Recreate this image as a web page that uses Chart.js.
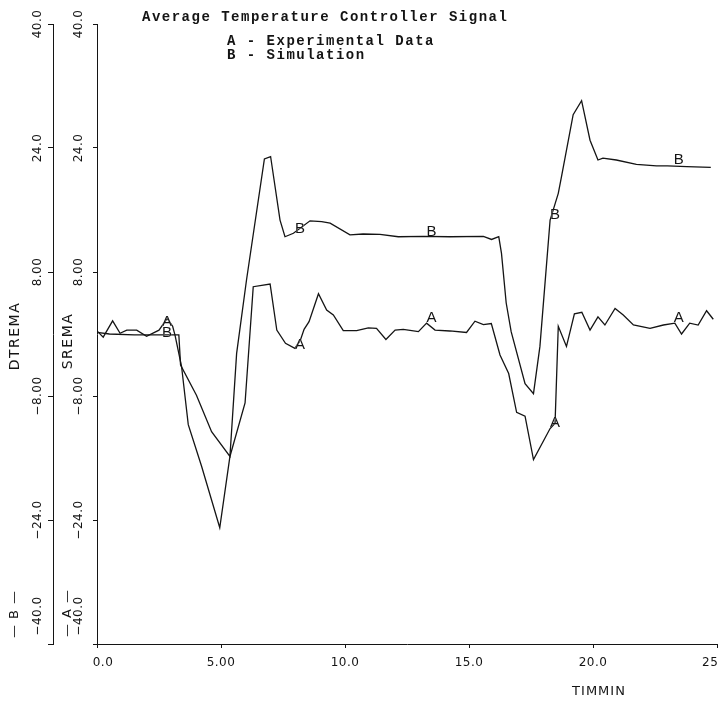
<!DOCTYPE html>
<html>
<head>
<meta charset="utf-8">
<script src="https://cdn.jsdelivr.net/npm/chart.js@4.4.1/dist/chart.umd.min.js"></script>
<style>
  html, body { margin: 0; padding: 0; background: #fff; }
  #wrap { width: 720px; height: 704px; }
</style>
</head>
<body>
<div id="wrap"><canvas id="c" width="720" height="704"></canvas></div>
<script>
// A - experimental data (SREMA) against time in minutes
const timeA = [0.0, 0.25, 0.63, 0.93, 1.2, 1.6, 2.0, 2.5, 2.83, 3.05, 3.15, 3.41, 3.68, 4.22, 4.95,
  5.36, 5.97, 6.3, 6.98, 7.25, 7.6, 7.98, 8.2, 8.35, 8.55, 8.93, 9.26, 9.53, 9.93, 10.47, 10.94,
  11.27, 11.65, 12.02, 12.35, 12.96, 13.29, 13.63, 14.23, 14.9, 15.24, 15.58, 15.9, 16.25, 16.6,
  16.92, 17.26, 17.6, 18.27, 18.47, 18.6, 18.93, 19.25, 19.55, 19.88, 20.2, 20.48, 20.89, 21.22,
  21.63, 22.3, 22.84, 23.3, 23.57, 23.9, 24.24, 24.58, 24.85];
const sremaA = [0.4, -0.4, 1.7, 0.1, 0.5, 0.5, -0.3, 0.5, 2.0, 1.0, -0.2, -4.2, -11.7, -17.1, -25.0,
  -15.8, -8.9, 6.1, 6.45, 0.5, -1.2, -1.85, -0.8, 0.6, 1.6, 5.2, 3.1, 2.45, 0.43, 0.43, 0.8,
  0.73, -0.7, 0.5, 0.6, 0.3, 1.4, 0.5, 0.39, 0.2, 1.65, 1.2, 1.35, -2.7, -5.1,
  -10.1, -10.6, -16.2, -12.2, -11.5, 1.0, -1.6, 2.6, 2.8, 0.5, 2.2, 1.16, 3.3, 2.45,
  1.16, 0.73, 1.16, 1.4, 0.0, 1.4, 1.16, 3.0, 1.9];

// B - simulation (DTREMA) against time in minutes
const timeB = [0.0, 0.5, 1.5, 2.5, 3.3, 3.37, 4.01, 4.62, 5.36, 5.63, 6.03, 6.75, 7.0, 7.38, 7.58,
  7.92, 8.59, 9.06, 9.4, 10.2, 10.73, 11.41, 12.15, 13.16, 14.23, 15.58, 15.91, 16.2, 16.31, 16.5,
  16.7, 17.26, 17.6, 17.86, 18.27, 18.6, 18.73, 19.2, 19.54, 19.88, 20.2, 20.4, 20.94, 21.75,
  22.56, 23.0, 23.78, 24.75];
const dtremaB = [0.2, 0.0, -0.1, -0.1, -0.1, -4.0, -7.9, -12.6, -15.8, -2.5, 7.0, 22.6, 22.9, 14.7, 12.55,
  13.0, 14.6, 14.5, 14.3, 12.8, 12.9, 12.85, 12.55, 12.6, 12.55, 12.6, 12.2, 12.55, 10.4, 4.0,
  0.3, -6.4, -7.7, -1.6, 14.7, 18.15, 20.3, 28.3, 30.1, 25.0, 22.45, 22.7, 22.45, 21.9,
  21.7, 21.7, 21.6, 21.5];

// series letters along the curves
const markTimes = [2.82, 8.19, 13.49, 18.47, 23.46];
const markA = [1.55, -1.42, 2.06, -11.5, 2.06];
const markB = [0.13, 13.55, 13.2, 15.35, 22.45];

// axis ticks
const xTicks = [0, 5, 10, 15, 20, 25];
const xTickLabels = ['0.0', '5.00', '10.0', '15.0', '20.0', '25'];
const yTicks = [-40, -24, -8, 8, 24, 40];
const yTickLabels = ['\u221240.0', '\u221224.0', '\u22128.00', '8.00', '24.0', '40.0'];

const ink = '#141414';

const pointsOf = (xs, ys) => xs.map((t, i) => ({ x: t, y: ys[i] }));

const drawUpright = (ctx, text, cx, cy) => {
  ctx.save();
  ctx.translate(cx, cy);
  ctx.rotate(-Math.PI / 2);
  ctx.fillText(text, 0, 0);
  ctx.restore();
};

const textLayer = {
  id: 'textLayer',
  afterDraw(chart) {
    const ctx = chart.ctx;
    const sx = chart.scales.x, sA = chart.scales.yA, sB = chart.scales.yB;
    ctx.save();
    ctx.fillStyle = ink;
    ctx.textAlign = 'center';
    ctx.textBaseline = 'middle';

    // vertical tick labels for both left axes
    ctx.font = '12px "DejaVu Sans"';
    ctx.letterSpacing = '0.5px';
    yTicks.forEach((v, i) => {
      const lift = v === yTicks[0] ? 28 : 0;
      drawUpright(ctx, yTickLabels[i], sB.left + 38, sB.getPixelForValue(v) - lift);
      drawUpright(ctx, yTickLabels[i], sA.left + 26, sA.getPixelForValue(v) - lift);
    });

    // axis names and series keys
    ctx.font = '14px "DejaVu Sans"';
    ctx.letterSpacing = '1.5px';
    drawUpright(ctx, 'DTREMA', sB.left + 15, 336);
    drawUpright(ctx, 'SREMA', sA.left + 15, 341);
    ctx.font = '13px "DejaVu Sans"';
    ctx.letterSpacing = '1px';
    drawUpright(ctx, '\u2014 B \u2014', sB.left + 15, 614);
    drawUpright(ctx, '\u2014 A \u2014', sA.left + 15, 613);

    // x tick labels
    ctx.font = '12px "DejaVu Sans"';
    ctx.letterSpacing = '0.5px';
    xTicks.forEach((t, i) => {
      const px = sx.getPixelForValue(t);
      if (i === xTicks.length - 1) {
        ctx.textAlign = 'left';
        ctx.fillText(xTickLabels[i], px - 15, 663);
        ctx.textAlign = 'center';
      } else {
        ctx.fillText(xTickLabels[i], px + (i === 0 ? 6 : 0), 663);
      }
    });
    ctx.font = '13px "DejaVu Sans"';
    ctx.letterSpacing = '1px';
    ctx.fillText('TIMMIN', 599, 692);

    // heading and key
    ctx.textAlign = 'left';
    ctx.font = 'bold 14px "Liberation Mono"';
    ctx.letterSpacing = '1.5px';
    ctx.fillText('Average Temperature Controller Signal', 142, 17);
    ctx.fillText('A - Experimental Data', 227, 41);
    ctx.fillText('B - Simulation', 227, 55);

    // series letters on the curves
    ctx.textAlign = 'center';
    ctx.font = '15px "Liberation Sans"';
    ctx.letterSpacing = '0px';
    markTimes.forEach((t, i) => {
      const px = sx.getPixelForValue(t);
      ctx.fillStyle = '#fff';
      ctx.fillText('A', px, sA.getPixelForValue(markA[i]));
      ctx.fillText('B', px, sB.getPixelForValue(markB[i]));
      ctx.fillStyle = ink;
      ctx.fillText('A', px, sA.getPixelForValue(markA[i]));
      ctx.fillText('B', px, sB.getPixelForValue(markB[i]));
    });
    ctx.restore();
  }
};

const axisLine = { color: ink, width: 1 };
const tickMarks = (len) => ({ display: true, drawOnChartArea: false, drawTicks: true, tickLength: len, color: ink, lineWidth: 1 });

new Chart(document.getElementById('c'), {
  type: 'scatter',
  data: {
    datasets: [
      {
        label: 'A - Experimental Data',
        data: pointsOf(timeA, sremaA),
        yAxisID: 'yA',
        showLine: true,
        borderColor: ink,
        borderWidth: 1.3,
        pointRadius: 0,
        tension: 0
      },
      {
        label: 'B - Simulation',
        data: pointsOf(timeB, dtremaB),
        yAxisID: 'yB',
        showLine: true,
        borderColor: ink,
        borderWidth: 1.3,
        pointRadius: 0,
        tension: 0
      }
    ]
  },
  options: {
    responsive: false,
    animation: false,
    devicePixelRatio: 1,
    layout: { padding: { top: 24, right: 3, left: 0, bottom: 0 } },
    plugins: { legend: { display: false }, tooltip: { enabled: false } },
    scales: {
      x: {
        type: 'linear', position: 'bottom', min: 0, max: 25,
        ticks: { display: false, stepSize: 5 },
        grid: tickMarks(4),
        border: axisLine,
        afterFit: s => { s.height = 60; }
      },
      yA: {
        type: 'linear', position: 'left', weight: 0, min: -40, max: 40,
        ticks: { display: false, stepSize: 16 },
        grid: tickMarks(4),
        border: axisLine,
        afterFit: s => { s.width = 44; }
      },
      yB: {
        type: 'linear', position: 'left', weight: 1, min: -40, max: 40,
        ticks: { display: false, stepSize: 16 },
        grid: tickMarks(5),
        border: axisLine,
        afterFit: s => { s.width = 53; }
      }
    }
  },
  plugins: [textLayer]
});
</script>
</body>
</html>
